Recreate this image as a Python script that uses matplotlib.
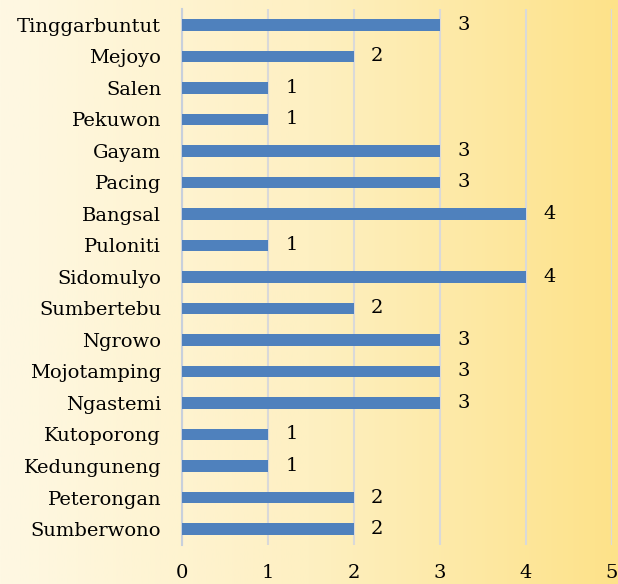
import numpy as np
import matplotlib.pyplot as plt
from matplotlib.colors import LinearSegmentedColormap

# Data (top to bottom as shown)
villages = ['Tinggarbuntut', 'Mejoyo', 'Salen', 'Pekuwon', 'Gayam', 'Pacing',
            'Bangsal', 'Puloniti', 'Sidomulyo', 'Sumbertebu', 'Ngrowo',
            'Mojotamping', 'Ngastemi', 'Kutoporong', 'Kedunguneng',
            'Peterongan', 'Sumberwono']
counts = [3, 2, 1, 1, 3, 3, 4, 1, 4, 2, 3, 3, 3, 1, 1, 2, 2]
xticks = [0, 1, 2, 3, 4, 5]

plt.rcParams['font.family'] = ['DejaVu Serif']
fs = 14

fig = plt.figure(figsize=(6.18, 5.84), dpi=100)

# background gradient over whole figure
bg = fig.add_axes([0, 0, 1, 1], zorder=-1)
grad = np.linspace(0, 1, 256).reshape(1, -1)
cmap = LinearSegmentedColormap.from_list('bg', ['#fef8e3', '#fef0c2', '#fde289'])
bg.imshow(grad, aspect='auto', cmap=cmap, extent=[0, 1, 0, 1])
bg.axis('off')

ax = fig.add_axes([0.2945, 0.0672, 0.6955, 0.917])
ax.patch.set_alpha(0)

y = np.arange(len(villages))
ax.barh(y, counts, height=0.36, color='#4f81bd', zorder=3)
for yi, v in zip(y, counts):
    ax.text(v + 0.2, yi, str(v), va='center', ha='left', fontsize=fs)

ax.set_ylim(len(villages) - 0.5, -0.5)
ax.set_xlim(0, 5)
ax.set_yticks(y)
ax.set_yticklabels(villages, fontsize=fs)
ax.set_xticks(xticks)
ax.set_xticklabels([str(t) for t in xticks], fontsize=fs)
ax.tick_params(axis='both', length=0)
ax.tick_params(axis='y', pad=15)
ax.tick_params(axis='x', pad=14)

ax.grid(axis='x', color='#d9d9d9', linewidth=1.5, zorder=0)
for s in ['top', 'right', 'bottom']:
    ax.spines[s].set_visible(False)
ax.spines['left'].set_color('#c8d0dc')
ax.spines['left'].set_linewidth(1.5)

fig.savefig('out.png', dpi=100)
